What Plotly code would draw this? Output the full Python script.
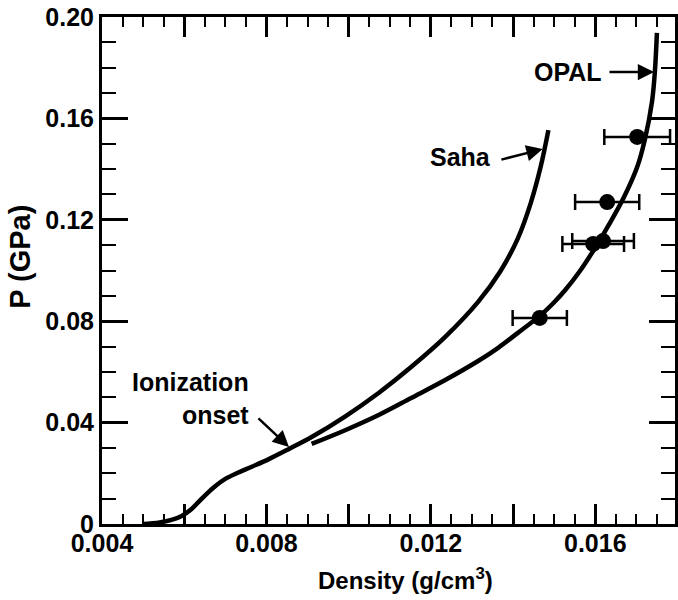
import plotly.graph_objects as go

# Saha equation-of-state curve (density in g/cm^3, pressure in GPa)
saha_density = [0.00499, 0.00540, 0.00569, 0.00594, 0.00615, 0.00635, 0.00654, 0.00676,
                0.00700, 0.00729, 0.00763, 0.00806, 0.00855, 0.00910, 0.00993, 0.01073,
                0.01152, 0.01235, 0.01315, 0.01368, 0.01412, 0.01443, 0.01467, 0.01486]
saha_pressure = [0.0000, 0.0006, 0.0016, 0.0032, 0.0055, 0.0087, 0.0118, 0.0150,
                 0.0178, 0.0201, 0.0225, 0.0256, 0.0296, 0.0343, 0.0426, 0.0517,
                 0.0619, 0.0738, 0.0876, 0.0994, 0.1128, 0.1266, 0.1408, 0.1554]

# OPAL curve
opal_density = [0.00910, 0.00993, 0.01073, 0.01152, 0.01235, 0.01315, 0.01363, 0.01411,
                0.01465, 0.01496, 0.01527, 0.01561, 0.01598, 0.01634, 0.01670, 0.01702,
                0.01721, 0.01738, 0.01745, 0.01750]
opal_pressure = [0.0316, 0.0371, 0.0430, 0.0497, 0.0568, 0.0643, 0.0694, 0.0753,
                 0.0821, 0.0868, 0.0923, 0.0994, 0.1085, 0.1183, 0.1290, 0.1408,
                 0.1519, 0.1665, 0.1783, 0.1937]

# Measured points with density uncertainty
meas_density = [0.01465, 0.01595, 0.01619, 0.01629, 0.01702]
meas_pressure = [0.0813, 0.1105, 0.1116, 0.1270, 0.1527]
meas_density_err = [0.00066, 0.00075, 0.00075, 0.00078, 0.00080]

x_tickvals = [0.004, 0.006, 0.008, 0.010, 0.012, 0.014, 0.016]
x_ticktext = ["0.004", "", "0.008", "", "0.012", "", "0.016"]
y_tickvals = [0, 0.04, 0.08, 0.12, 0.16, 0.20]
y_ticktext = ["0", "0.04", "0.08", "0.12", "0.16", "0.20"]

FONT = "Liberation Sans, Arial, sans-serif"

fig = go.Figure()

fig.add_trace(go.Scatter(x=saha_density, y=saha_pressure, mode="lines",
                         line=dict(color="black", width=4.5, shape="spline", smoothing=1),
                         showlegend=False))
fig.add_trace(go.Scatter(x=opal_density, y=opal_pressure, mode="lines",
                         line=dict(color="black", width=4.5, shape="spline", smoothing=1),
                         showlegend=False))
fig.add_trace(go.Scatter(x=meas_density, y=meas_pressure, mode="markers",
                         marker=dict(color="black", size=16),
                         error_x=dict(type="data", array=meas_density_err, visible=True,
                                      color="black", thickness=2.5, width=8),
                         showlegend=False))

# Curve labels
fig.add_annotation(x=0.01622, y=0.1783, text="<b>OPAL</b>", showarrow=False,
                   xanchor="right", yanchor="middle", font=dict(size=25, color="black", family=FONT))
fig.add_annotation(x=0.01351, y=0.1448, text="<b>Saha</b>", showarrow=False,
                   xanchor="right", yanchor="middle", font=dict(size=25, color="black", family=FONT))
fig.add_annotation(x=0.00763, y=0.0495, text="<b>Ionization<br>onset</b>", showarrow=False,
                   xanchor="right", yanchor="middle", align="right",
                   font=dict(size=25, color="black", family=FONT))

# Pointer arrows (tail -> tip)
arrows = [
    ((0.01631, 0.1783), (0.01743, 0.1783)),
    ((0.01368, 0.1436), (0.01472, 0.1479)),
    ((0.00777, 0.0422), (0.00855, 0.0304)),
]
for (tx, ty), (hx, hy) in arrows:
    fig.add_annotation(x=hx, y=hy, ax=tx, ay=ty, xref="x", yref="y", axref="x", ayref="y",
                       text="", showarrow=True, arrowhead=2, arrowsize=1.3, arrowwidth=2.5,
                       arrowcolor="black", standoff=0)

# Axis titles
fig.add_annotation(x=0.53, y=-0.108, xref="paper", yref="paper",
                   text="<b>Density (g/cm<sup>3</sup>)</b>", showarrow=False,
                   xanchor="center", yanchor="middle",
                   font=dict(size=24, color="black", family=FONT))
fig.add_annotation(x=-0.143, y=0.527, xref="paper", yref="paper",
                   text="<b>P (GPa)</b>", showarrow=False, textangle=-90,
                   xanchor="center", yanchor="middle",
                   font=dict(size=29, color="black", family=FONT))

fig.update_xaxes(
    range=[0.004, 0.01794], showgrid=False, zeroline=False,
    showline=True, linecolor="black", linewidth=3, mirror="ticks",
    ticks="inside", ticklen=20, tickwidth=2.5, tickcolor="black",
    tickvals=x_tickvals, ticktext=[f"<b>{t}</b>" if t else "" for t in x_ticktext],
    tickfont=dict(size=25, color="black", family=FONT),
    ticklabelstandoff=-5,
    minor=dict(ticks="inside", dtick=0.0005, tick0=0.004, ticklen=10, tickwidth=2,
               tickcolor="black", showgrid=False),
)
fig.update_yaxes(
    range=[0, 0.2], showgrid=False, zeroline=False,
    showline=True, linecolor="black", linewidth=3, mirror="ticks",
    ticks="inside", ticklen=26, tickwidth=2.5, tickcolor="black",
    tickvals=y_tickvals, ticktext=[f"<b>{t}</b>" for t in y_ticktext],
    tickfont=dict(size=25, color="black", family=FONT),
    minor=dict(ticks="inside", dtick=0.01, tick0=0, ticklen=14, tickwidth=2,
               tickcolor="black", showgrid=False),
)

fig.update_layout(
    width=678, height=600,
    margin=dict(l=102, r=0, t=17, b=76),
    paper_bgcolor="white", plot_bgcolor="white",
)

fig.write_html("out.html")
